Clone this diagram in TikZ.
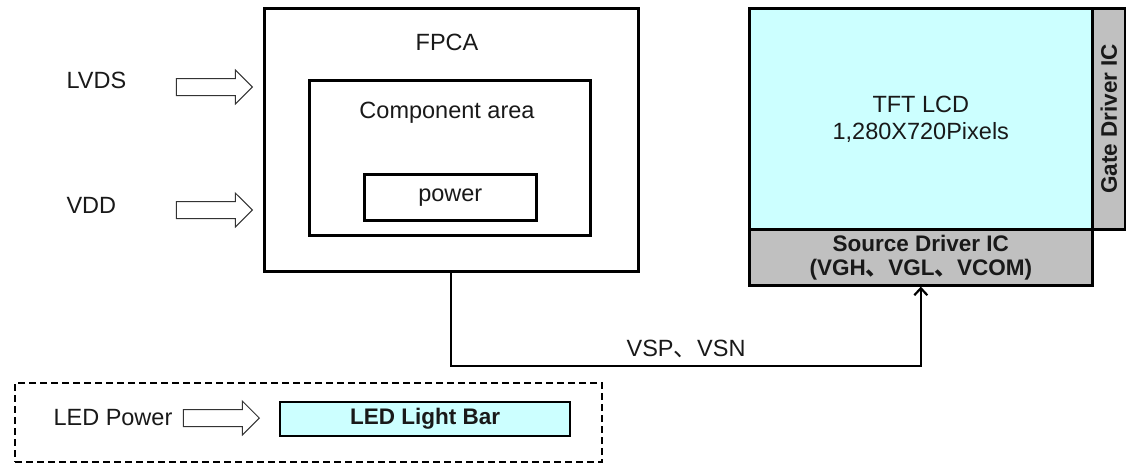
\documentclass[tikz,border=0pt]{standalone}
\usepackage{fontspec}
\setmainfont{Liberation Sans}
\newfontfamily\cjk{Noto Sans CJK SC}
\usepackage{tikz}
\usetikzlibrary{shapes.arrows,arrows.meta,positioning}

\definecolor{lcdcyan}{RGB}{204,255,255}
\definecolor{icgray}{RGB}{192,192,192}
\newcommand{\diagfont}{\fontsize{23.5}{27}\selectfont}
\newcommand{\diagbold}{\fontsize{22.5}{24}\selectfont\bfseries}

\begin{document}
\begin{tikzpicture}[x=1pt, y=-1pt, >={Straight Barb[length=7pt,width=13pt]},
    every node/.style={font=\diagfont, text=black!90},
    box/.style={draw, line width=2.6pt, inner sep=0pt, anchor=north west},
    boldtxt/.style={font=\diagbold},
    fatarrow/.style={single arrow, draw=black!80, line width=1pt, fill=white,
        inner sep=8pt, single arrow head extend=8.5pt, single arrow tip angle=90,
        minimum height=76pt, anchor=tip}]

    % Page size (1 px = 1 pt)
    \useasboundingbox (0,0) rectangle (1126,463);

    % Input signals
    \node[anchor=west] (lvds) at (63,80) {LVDS};
    \node[anchor=west] (vdd) at (63,205) {VDD};
    \node[fatarrow] (lvdsarrow) at (253,87) {};
    \node[fatarrow] (vddarrow) at (253,210) {};

    % FPCA board
    \node[box, minimum width=374pt, minimum height=263pt] (fpca) at (263,7) {};
    \node (fpcatitle) at (447,42) {FPCA};
    \node[box, minimum width=281pt, minimum height=155pt] (comp) at (308,79) {};
    \node (comptitle) at (447,113) {Component area};
    \node[box, minimum width=172pt, minimum height=46pt] (power) at (363,173) {power};

    % TFT panel with driver ICs
    \node[box, fill=lcdcyan, minimum width=343pt, minimum height=221pt, align=center] (lcd) at (748,7) {TFT LCD\\1,280X720Pixels};
    \node[box, fill=icgray, minimum width=33pt, minimum height=221pt] (gate) at (1091,7) {};
    \node[boldtxt, rotate=90] (gatetxt) at (gate.center) {Gate Driver IC};
    \node[box, boldtxt, fill=icgray, minimum width=343pt, minimum height=56pt, align=center] (source) at (748,228) {Source Driver IC\\(VGH{\cjk 、}VGL{\cjk 、}VCOM)};

    % Supply from FPCA to source driver
    \draw[->, line width=2.2pt] (fpca.south) -- ++(0,93) -| (source.south)
        node[pos=0.25, above=3pt] {VSP{\cjk 、}VSN};

    % Backlight
    \node[draw, line width=2.2pt, dash pattern=on 7pt off 4pt, inner sep=0pt,
        anchor=north west, minimum width=587pt, minimum height=79pt] (backlight) at (14,382) {};
    \node[anchor=west] (ledpower) at (50,418) {LED Power};
    \node[fatarrow] (ledarrow) at (260,418) {};
    \node[box, boldtxt, line width=2.2pt, fill=lcdcyan, minimum width=290pt, minimum height=34pt] (lightbar) at (279,401) {LED Light Bar};

\end{tikzpicture}
\end{document}
